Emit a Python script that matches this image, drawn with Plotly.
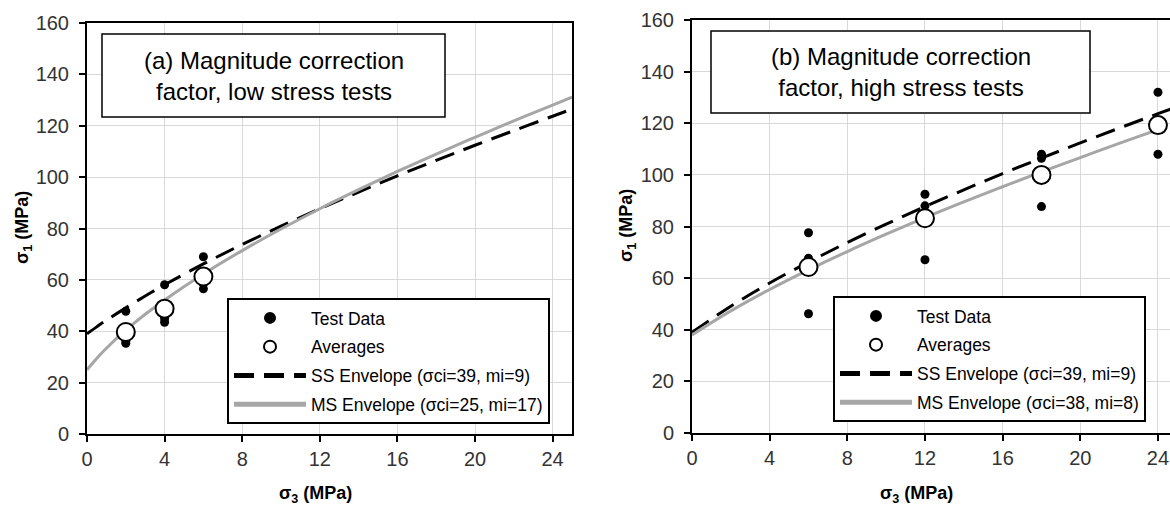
import plotly.graph_objects as go

W, H = 1170, 506

# ---------------- data ----------------
# Panel (a): low stress tests
a_test_s3 = [2, 2, 2, 4, 4, 4, 6, 6, 6]
a_test_s1 = [47.8, 36.2, 35.3, 58.1, 43.5, 45.0, 69.0, 58.5, 56.5]
a_avg_s3 = [2, 4, 6]
a_avg_s1 = [39.7, 48.8, 61.3]
a_env_s3 = [0, 0.5, 1, 2, 3, 4, 6, 8, 10, 12, 14, 16, 18, 20, 22, 24, 25]
a_ss_s1 = [39.0, 41.7, 44.3, 49.1, 53.7, 58.1, 66.2, 73.8, 80.9, 87.7, 94.2, 100.5, 106.5, 112.4, 118.1, 123.7, 126.5]
a_ms_s1 = [25.0, 29.4, 33.4, 40.4, 46.6, 52.2, 62.3, 71.4, 79.8, 87.7, 95.1, 102.2, 109.0, 115.5, 121.9, 128.0, 131.1]

# Panel (b): high stress tests
b_test_s3 = [6, 6, 6, 12, 12, 12, 18, 18, 18, 24, 24, 24]
b_test_s1 = [77.6, 67.7, 46.2, 92.5, 88.0, 67.1, 108.0, 106.4, 87.7, 132.0, 108.0, 117.9]
b_avg_s3 = [6, 12, 18, 24]
b_avg_s1 = [64.3, 83.2, 100.0, 119.3]
b_ss_s3 = [0, 2, 4, 6, 8, 10, 12, 14, 16, 18, 20, 22, 24, 26]
b_ss_s1 = [39.0, 49.1, 58.1, 66.2, 73.8, 80.9, 87.7, 94.2, 100.5, 106.5, 112.4, 118.1, 123.7, 129.2]
b_ms_s3 = [0, 2, 4, 6, 8, 10, 12, 14, 16, 18, 20, 22, 24]
b_ms_s1 = [38.0, 47.3, 55.6, 63.2, 70.3, 77.0, 83.4, 89.5, 95.4, 101.2, 106.7, 112.2, 117.5]

x_ticks = [0, 4, 8, 12, 16, 20, 24]
y_ticks = [0, 20, 40, 60, 80, 100, 120, 140, 160]

a_labels = ["Test Data", "Averages", "SS Envelope (σci=39, mi=9)", "MS Envelope (σci=25, mi=17)"]
b_labels = ["Test Data", "Averages", "SS Envelope (σci=39, mi=9)", "MS Envelope (σci=38, mi=8)"]
a_title = "(a) Magnitude correction<br>factor, low stress tests"
b_title = "(b) Magnitude correction<br>factor, high stress tests"

FONT = "Arial, Liberation Sans, sans-serif"
DASH = "20px,10px"
GRAY = "#a6a6a6"

def px(x):
    return x / W

def py(y):
    return 1 - y / H

fig = go.Figure()

def add_panel(xa, ya, leg, labels, test_x, test_y, avg_x, avg_y, ssx, ssy, msx, msy):
    fig.add_trace(go.Scatter(x=ssx, y=ssy, mode="lines", name=labels[2], xaxis=xa, yaxis=ya,
                             line=dict(color="black", width=3, dash=DASH, shape="spline"),
                             legend=leg, legendrank=3, legendgroup=leg + "c"))
    fig.add_trace(go.Scatter(x=msx, y=msy, mode="lines", name=labels[3], xaxis=xa, yaxis=ya,
                             line=dict(color=GRAY, width=3, shape="spline"),
                             legend=leg, legendrank=4, legendgroup=leg + "d"))
    fig.add_trace(go.Scatter(x=test_x, y=test_y, mode="markers", name=labels[0], xaxis=xa, yaxis=ya,
                             marker=dict(color="black", size=9),
                             legend=leg, legendrank=1, legendgroup=leg + "a"))
    fig.add_trace(go.Scatter(x=avg_x, y=avg_y, mode="markers", name=labels[1], xaxis=xa, yaxis=ya,
                             marker=dict(color="white", size=18, line=dict(color="black", width=2)),
                             legend=leg, legendrank=2, legendgroup=leg + "b"))

add_panel("x", "y", "legend", a_labels, a_test_s3, a_test_s1, a_avg_s3, a_avg_s1,
          a_env_s3, a_ss_s1, a_env_s3, a_ms_s1)
add_panel("x2", "y2", "legend2", b_labels, b_test_s3, b_test_s1, b_avg_s3, b_avg_s1,
          b_ss_s3, b_ss_s1, b_ms_s3, b_ms_s1)

axis_common = dict(showgrid=True, gridcolor="#d9d9d9", gridwidth=1, zeroline=False,
                   showline=True, linecolor="black", linewidth=2,
                   ticks="outside", ticklen=6, tickwidth=1.5, tickcolor="black",
                   automargin=False,
                   tickfont=dict(family=FONT, size=20, color="#333333"))

leg_common = dict(xanchor="left", yanchor="top",
                  bgcolor="white", bordercolor="black", borderwidth=2,
                  font=dict(family=FONT, size=17.5, color="black"),
                  itemwidth=72, tracegroupgap=3, traceorder="grouped", itemsizing="constant")

fig.update_layout(
    width=W, height=H,
    margin=dict(l=0, r=0, t=0, b=0, pad=0, autoexpand=False),
    paper_bgcolor="white", plot_bgcolor="white",
    font=dict(family=FONT, color="black"),
    xaxis=dict(domain=[px(87), px(572)], range=[0, 25], tickvals=x_ticks, mirror=True,
               anchor="y", ticklabelstandoff=0, **axis_common),
    yaxis=dict(domain=[py(434), py(23)], range=[0, 160], tickvals=y_ticks, mirror=True,
               anchor="x", ticklabelstandoff=6, **axis_common),
    xaxis2=dict(domain=[px(692), 1.0], range=[0, 24.62], tickvals=x_ticks, mirror=True,
                anchor="y2", ticklabelstandoff=0, **axis_common),
    yaxis2=dict(domain=[py(433), py(20)], range=[0, 160], tickvals=y_ticks, mirror=False,
                anchor="x2", ticklabelstandoff=6, **axis_common),
    legend=dict(x=px(227), y=py(298), **leg_common),
    legend2=dict(x=px(833), y=py(296), **leg_common),
    showlegend=True,
)

# title boxes
for (x0, y0, x1, y1, txt) in [(102, 34, 445, 117, a_title), (711, 31, 1090, 113, b_title)]:
    fig.add_shape(type="rect", xref="paper", yref="paper", x0=px(x0), x1=px(x1), y0=py(y1), y1=py(y0),
                  line=dict(color="black", width=1.5), fillcolor="white", layer="above")
    fig.add_annotation(xref="paper", yref="paper", x=px((x0 + x1) / 2), y=py((y0 + y1) / 2),
                       text=txt, showarrow=False, xanchor="center", yanchor="middle",
                       font=dict(family=FONT, size=24, color="black"), align="center")

# axis titles
for (x, y) in [(315, 494), (916, 494)]:
    fig.add_annotation(xref="paper", yref="paper", x=px(x), y=py(y), text="<b>σ<sub>3</sub> (MPa)</b>",
                       showarrow=False, xanchor="center", yanchor="middle",
                       font=dict(family=FONT, size=18, color="black"))
for (x, y) in [(23, 228), (627, 226)]:
    fig.add_annotation(xref="paper", yref="paper", x=px(x), y=py(y), text="<b>σ<sub>1</sub> (MPa)</b>",
                       showarrow=False, xanchor="center", yanchor="middle", textangle=-90,
                       font=dict(family=FONT, size=18, color="black"))

fig.write_html("out.html")
